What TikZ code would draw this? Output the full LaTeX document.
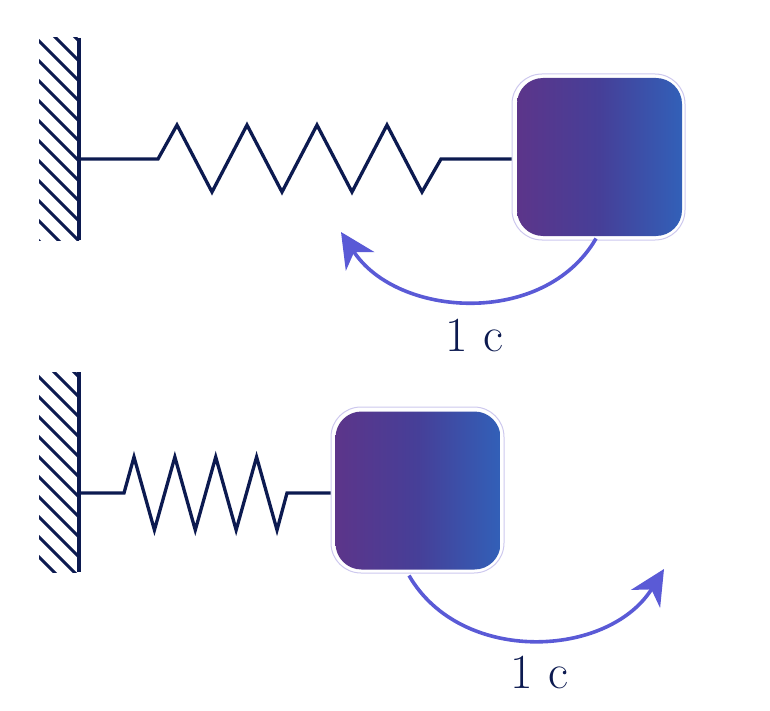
\documentclass[tikz,border=0pt]{standalone}
\usepackage{fontspec}
\usetikzlibrary{arrows.meta}
\definecolor{navy}{RGB}{12,26,80}
\definecolor{arrowc}{RGB}{90,90,214}
\definecolor{ringc}{RGB}{205,200,238}
\definecolor{gradL}{RGB}{92,53,138}
\definecolor{gradM}{RGB}{70,63,152}
\definecolor{gradR}{RGB}{50,96,184}
\begin{document}
\begin{tikzpicture}[x=1pt,y=-1pt,
 wallline/.style={navy, line width=3.6pt},
 hatchline/.style={navy, line width=3.1pt},
 springline/.style={navy, line width=3.3pt},
 blockouter/.style={draw=ringc, line width=1pt, fill=white, rounded corners=30pt, minimum width=173pt, minimum height=166pt, inner sep=0pt},
 blockinner/.style={left color=gradL, right color=gradR, middle color=gradM, rounded corners=26pt, minimum width=165pt, minimum height=158pt, inner sep=0pt},
 arr/.style={arrowc, line width=3.6pt, -{Stealth[length=35pt,width=34pt,inset=11pt]}},
 lab/.style={text=navy, font=\fontsize{49}{59}\selectfont, anchor=base, inner sep=0pt}]
\useasboundingbox (0,0) rectangle (770,711);
% ---------- top system ----------
\begin{scope}
\clip (39,38) rectangle (79,240);
\foreach \n in {-3,...,11} \draw[hatchline] (20,{22+20*\n}) -- ++(80,80);
\end{scope}
\draw[wallline] (79,38) -- (79,240);
\coordinate (wallT) at (79,159);
\node[blockouter] (blockT) at (598.5,157) {};
\node[blockinner] (blockTi) at (599.5,157) {};
\draw[springline] (wallT) -- ++(79,0) -- ++(19,-34) -- ++(35,67) -- ++(35,-67) -- ++(35,67) -- ++(35,-67) -- ++(35,67) -- ++(35,-67) -- ++(35,67) -- ++(19,-33) -- (wallT -| blockT.west);
\coordinate (tipT) at (341,232);
\draw[arr] ([xshift=-2.5pt,yshift=2pt]blockT.south) .. controls +(-51.5,89) and +(56,86) .. (tipT);
\node[lab] (labT) at (474.5,351) {1 c};
% ---------- bottom system ----------
\begin{scope}
\clip (39,372) rectangle (79,572);
\foreach \n in {-3,...,11} \draw[hatchline] (20,{358+20*\n}) -- ++(80,80);
\end{scope}
\draw[wallline] (79,372) -- (79,572);
\coordinate (wallB) at (79,493);
\node[blockouter] (blockB) at (417.5,490) {};
\node[blockinner] (blockBi) at (418,490.5) {};
\draw[springline] (wallB) -- ++(45,0) -- ++(10,-36) -- ++(20.43,73) -- ++(20.43,-73) -- ++(20.43,73) -- ++(20.43,-73) -- ++(20.43,73) -- ++(20.43,-73) -- ++(20.43,73) -- ++(10,-37) -- (wallB -| blockB.west);
\coordinate (tipB) at (664,569);
\draw[arr] ([xshift=-8.5pt,yshift=-2pt]blockB.south) .. controls +(52,90) and +(-55,89) .. (tipB);
\node[lab] (labB) at (539.5,688) {1 c};
\end{tikzpicture}
\end{document}
